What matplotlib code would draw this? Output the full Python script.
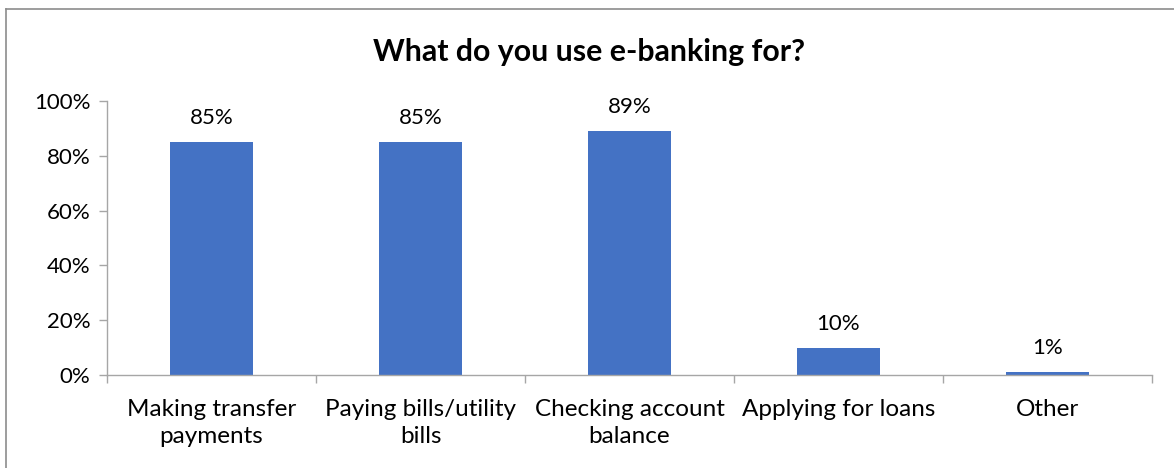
import matplotlib
matplotlib.use("Agg")
import matplotlib.pyplot as plt
from matplotlib.lines import Line2D
from matplotlib.ticker import PercentFormatter

categories = ["Making transfer\npayments", "Paying bills/utility\nbills",
              "Checking account\nbalance", "Applying for loans", "Other"]
values = [85, 85, 89, 10, 1]
y_ticks = [0, 20, 40, 60, 80, 100]
title = "What do you use e-banking for?"

BAR_COLOR = "#4472C4"
AXIS_COLOR = "#A6A6A6"
FONT = ["Lato", "DejaVu Sans"]

plt.rcParams["font.family"] = FONT

W, H, DPI = 1174, 468, 100
fig = plt.figure(figsize=(W / DPI, H / DPI), dpi=DPI)
fig.patch.set_facecolor("white")

# chart-area frame (left and top edges)
fig.add_artist(Line2D([6 / W, 6 / W], [0, 1 - 9 / H], transform=fig.transFigure,
                      color="#8C8C8C", lw=1.2))
fig.add_artist(Line2D([6 / W, 1], [1 - 9 / H, 1 - 9 / H], transform=fig.transFigure,
                      color="#8C8C8C", lw=1.2))

left, right = 107 / W, 1152 / W
bottom, top = 1 - 375 / H, 1 - 101 / H
ax = fig.add_axes([left, bottom, right - left, top - bottom])

x = list(range(len(categories)))
bars = ax.bar(x, values, width=0.4, color=BAR_COLOR, zorder=2)

for rect, v in zip(bars, values):
    ax.annotate(f"{v}%", (rect.get_x() + rect.get_width() / 2, v),
                xytext=(0, 13), textcoords="offset points",
                ha="center", va="baseline", fontsize=16, color="#000000")

ax.set_xlim(-0.5, len(categories) - 0.5)
ax.set_ylim(0, 100)
ax.set_yticks(y_ticks)
ax.yaxis.set_major_formatter(PercentFormatter(decimals=0))
ax.set_xticks(x)
ax.set_xticklabels(categories, linespacing=1.4)
# category boundary ticks on the x axis
ax.set_xticks([i - 0.5 for i in range(len(categories) + 1)], minor=True)
ax.tick_params(axis="x", which="major", length=0, pad=17, labelsize=17.5)
ax.tick_params(axis="x", which="minor", length=6, color=AXIS_COLOR, width=1)
ax.tick_params(axis="y", length=6, color=AXIS_COLOR, width=1, labelsize=16, pad=6)

for s in ["top", "right"]:
    ax.spines[s].set_visible(False)
for s in ["left", "bottom"]:
    ax.spines[s].set_color(AXIS_COLOR)
    ax.spines[s].set_linewidth(1)

fig.text(0.5 + 0.0017, 1 - 52 / H, title, ha="center", va="center",
         fontsize=21.8, fontweight="bold", color="#000000")

fig.savefig("out.png", dpi=DPI, facecolor="white")
